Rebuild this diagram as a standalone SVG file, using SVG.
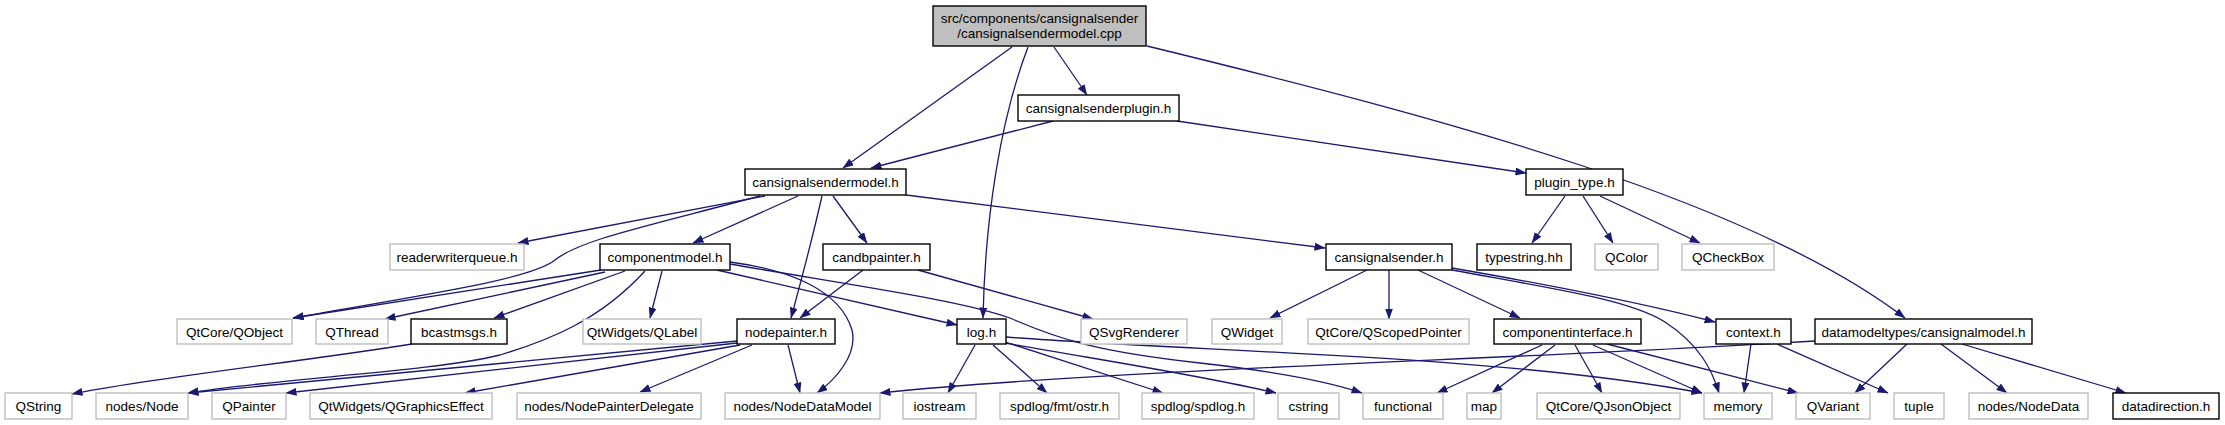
<svg xmlns="http://www.w3.org/2000/svg" width="2225" height="425" viewBox="0 0 2225 425">
<style>
.n rect{fill:#fff;stroke:#000;stroke-width:1.4}
.g rect{fill:#fff;stroke:#bfbfbf;stroke-width:1.4}
.root rect{fill:#bfbfbf;stroke:#000;stroke-width:1.4}
text{font-family:"Liberation Sans",Arial,sans-serif;font-size:13.5px;fill:#000;text-anchor:middle}
#edges path{fill:none;stroke:#191970;stroke-width:1.3;marker-end:url(#a)}
</style>
<defs>
<marker id="a" markerWidth="11" markerHeight="8" refX="10.5" refY="4" orient="auto" markerUnits="userSpaceOnUse">
<path d="M0,0 L11,4 L0,8 z" fill="#191970"/>
</marker>
</defs>
<rect width="2225" height="425" fill="#fff"/>
<g id="edges">
<path d="M1012,47 L843,168"/>
<path d="M1028,47 C1000,120 985,220 983,318"/>
<path d="M1054,47 L1087,95"/>
<path d="M1147,46 C1450,120 1750,200 1905,318"/>
<path d="M1053,121 L871,168"/>
<path d="M1177,121 L1526,173"/>
<path d="M1565,196 L1532,243"/>
<path d="M1583,196 L1613,243"/>
<path d="M1600,196 L1700,243"/>
<path d="M765,196 L518,243"/>
<path d="M760,196 C640,228 580,240 555,260 C530,280 420,295 293,318"/>
<path d="M798,196 L693,243"/>
<path d="M822,196 C812,240 800,285 791,318"/>
<path d="M833,196 L867,243"/>
<path d="M906,195 L1325,248"/>
<path d="M601,270 L293,318"/>
<path d="M605,272 L385,319"/>
<path d="M625,271 L494,318"/>
<path d="M662,271 L650,318"/>
<path d="M645,271 C600,320 550,340 500,355 C430,372 280,378 188,393"/>
<path d="M717,270 L957,325"/>
<path d="M730,262 C790,270 840,290 852,330 C858,355 835,380 817,393"/>
<path d="M730,264 C850,285 960,300 1010,318 C1060,340 1100,352 1200,363 C1280,372 1330,382 1362,393"/>
<path d="M863,270 L800,318"/>
<path d="M918,270 L1093,319"/>
<path d="M1367,270 L1270,318"/>
<path d="M1389,270 L1389,319"/>
<path d="M1418,270 L1520,318"/>
<path d="M1452,268 C1550,285 1650,305 1715,322"/>
<path d="M1452,270 C1560,290 1630,300 1665,322 C1700,345 1712,370 1719,393"/>
<path d="M737,341 L188,393"/>
<path d="M737,343 L286,393"/>
<path d="M740,345 L465,393"/>
<path d="M752,345 L640,392"/>
<path d="M788,345 L800,393"/>
<path d="M412,344 C300,362 150,378 72,394"/>
<path d="M975,345 L948,393"/>
<path d="M993,345 L1047,393"/>
<path d="M1005,342 L1163,393"/>
<path d="M1005,343 C1100,360 1200,375 1276,393"/>
<path d="M1006,337 C1200,352 1500,355 1702,393"/>
<path d="M1542,345 L1437,393"/>
<path d="M1555,345 L1492,393"/>
<path d="M1575,345 L1602,393"/>
<path d="M1593,345 L1702,393"/>
<path d="M1607,344 L1798,393"/>
<path d="M1751,344 L1744,393"/>
<path d="M1777,344 L1888,393"/>
<path d="M1907,344 L1855,393"/>
<path d="M1941,344 L2007,393"/>
<path d="M1962,344 L2126,393"/>
<path d="M1815,341 C1500,360 1100,370 880,393"/>
</g>
<g id="n_cpp" class="root"><rect x="933" y="6" width="213" height="40"/><text x="1039.5" y="22.5">src/components/cansignalsender</text><text x="1039.5" y="38">/cansignalsendermodel.cpp</text></g>
<g id="n_plugin" class="n"><rect x="1018" y="95" width="161" height="26"/><text x="1098.5" y="113">cansignalsenderplugin.h</text></g>
<g id="n_model" class="n"><rect x="745" y="169" width="161" height="26"/><text x="825.5" y="187">cansignalsendermodel.h</text></g>
<g id="n_plugintype" class="n"><rect x="1526" y="169" width="97" height="26"/><text x="1574.5" y="187">plugin_type.h</text></g>
<g id="n_rwq" class="g"><rect x="390" y="244" width="134" height="26"/><text x="457" y="262">readerwriterqueue.h</text></g>
<g id="n_compmodel" class="n"><rect x="600" y="244" width="130" height="26"/><text x="665" y="262">componentmodel.h</text></g>
<g id="n_candb" class="n"><rect x="823" y="244" width="107" height="26"/><text x="876.5" y="262">candbpainter.h</text></g>
<g id="n_sender" class="n"><rect x="1326" y="244" width="126" height="26"/><text x="1389" y="262">cansignalsender.h</text></g>
<g id="n_typestring" class="n"><rect x="1477" y="244" width="94" height="26"/><text x="1524" y="262">typestring.hh</text></g>
<g id="n_qcolor" class="g"><rect x="1595" y="244" width="63" height="26"/><text x="1626.5" y="262">QColor</text></g>
<g id="n_qcheckbox" class="g"><rect x="1682" y="244" width="92" height="26"/><text x="1728" y="262">QCheckBox</text></g>
<g id="n_qobject" class="g"><rect x="177" y="319" width="115" height="25"/><text x="234.5" y="336.5">QtCore/QObject</text></g>
<g id="n_qthread" class="g"><rect x="316" y="319" width="72" height="25"/><text x="352" y="336.5">QThread</text></g>
<g id="n_bcast" class="n"><rect x="411" y="319" width="96" height="25"/><text x="459" y="336.5">bcastmsgs.h</text></g>
<g id="n_qlabel" class="g"><rect x="583" y="319" width="118" height="25"/><text x="642" y="336.5">QtWidgets/QLabel</text></g>
<g id="n_nodepainter" class="n"><rect x="737" y="319" width="98" height="25"/><text x="786" y="336.5">nodepainter.h</text></g>
<g id="n_log" class="n"><rect x="957" y="319" width="49" height="25"/><text x="981.5" y="336.5">log.h</text></g>
<g id="n_qsvg" class="g"><rect x="1081" y="319" width="106" height="25"/><text x="1134" y="336.5">QSvgRenderer</text></g>
<g id="n_qwidget" class="g"><rect x="1212" y="319" width="70" height="25"/><text x="1247" y="336.5">QWidget</text></g>
<g id="n_qscoped" class="g"><rect x="1308" y="319" width="161" height="25"/><text x="1388.5" y="336.5">QtCore/QScopedPointer</text></g>
<g id="n_compif" class="n"><rect x="1494" y="319" width="147" height="25"/><text x="1567.5" y="336.5">componentinterface.h</text></g>
<g id="n_context" class="n"><rect x="1716" y="319" width="75" height="25"/><text x="1753.5" y="336.5">context.h</text></g>
<g id="n_dmt" class="n"><rect x="1815" y="319" width="217" height="25"/><text x="1923.5" y="336.5">datamodeltypes/cansignalmodel.h</text></g>
<g id="n_qstring" class="g"><rect x="5" y="393" width="67" height="26"/><text x="38.5" y="411">QString</text></g>
<g id="n_node" class="g"><rect x="96" y="393" width="92" height="26"/><text x="142" y="411">nodes/Node</text></g>
<g id="n_qpainter" class="g"><rect x="212" y="393" width="74" height="26"/><text x="249" y="411">QPainter</text></g>
<g id="n_qge" class="g"><rect x="310" y="393" width="182" height="26"/><text x="401" y="411">QtWidgets/QGraphicsEffect</text></g>
<g id="n_npd" class="g"><rect x="517" y="393" width="184" height="26"/><text x="609" y="411">nodes/NodePainterDelegate</text></g>
<g id="n_ndm" class="g"><rect x="725" y="393" width="155" height="26"/><text x="802.5" y="411">nodes/NodeDataModel</text></g>
<g id="n_iostream" class="g"><rect x="903" y="393" width="73" height="26"/><text x="939.5" y="411">iostream</text></g>
<g id="n_ostr" class="g"><rect x="1000" y="393" width="119" height="26"/><text x="1059.5" y="411">spdlog/fmt/ostr.h</text></g>
<g id="n_spdlog" class="g"><rect x="1142" y="393" width="112" height="26"/><text x="1198" y="411">spdlog/spdlog.h</text></g>
<g id="n_cstring" class="g"><rect x="1278" y="393" width="61" height="26"/><text x="1308.5" y="411">cstring</text></g>
<g id="n_functional" class="g"><rect x="1363" y="393" width="80" height="26"/><text x="1403" y="411">functional</text></g>
<g id="n_map" class="g"><rect x="1467" y="393" width="34" height="26"/><text x="1484" y="411">map</text></g>
<g id="n_qjson" class="g"><rect x="1537" y="393" width="143" height="26"/><text x="1608.5" y="411">QtCore/QJsonObject</text></g>
<g id="n_memory" class="g"><rect x="1704" y="393" width="68" height="26"/><text x="1738" y="411">memory</text></g>
<g id="n_qvariant" class="g"><rect x="1796" y="393" width="74" height="26"/><text x="1833" y="411">QVariant</text></g>
<g id="n_tuple" class="g"><rect x="1894" y="393" width="50" height="26"/><text x="1919" y="411">tuple</text></g>
<g id="n_nodedata" class="g"><rect x="1969" y="393" width="119" height="26"/><text x="2028.5" y="411">nodes/NodeData</text></g>
<g id="n_datadir" class="n"><rect x="2113" y="393" width="106" height="26"/><text x="2166" y="411">datadirection.h</text></g>
</svg>
